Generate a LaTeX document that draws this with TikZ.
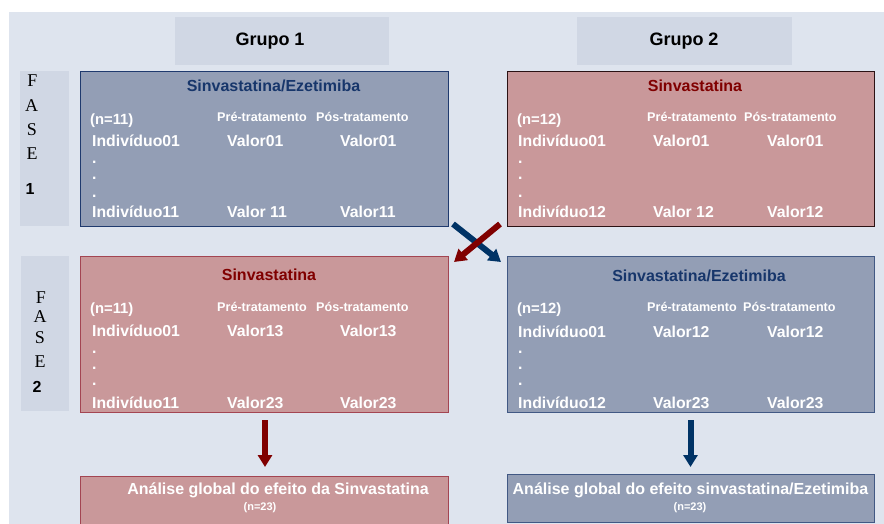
\documentclass[tikz,border=0pt]{standalone}
\usepackage{fontspec}
\setmainfont{Liberation Sans}
\newfontfamily\fasefont{Liberation Serif}
\usetikzlibrary{arrows.meta}
\definecolor{bgc}{HTML}{DEE4EE}
\definecolor{hdrc}{HTML}{D0D7E4}
\definecolor{boxblue}{HTML}{939EB5}
\definecolor{boxred}{HTML}{C9989A}
\definecolor{edgeblue}{HTML}{1F3A6E}
\definecolor{edgered}{HTML}{A34552}
\definecolor{edgedark}{HTML}{2B1214}
\definecolor{titleblue}{HTML}{17366B}
\definecolor{titlered}{HTML}{800000}
\definecolor{arrowblue}{HTML}{003366}
\definecolor{arrowred}{HTML}{800000}
\begin{document}
\begin{tikzpicture}[x=1pt,y=-1pt,
  rect/.style={inner sep=0pt, outer sep=0pt, anchor=north west},
  hdr/.style={rect, fill=hdrc, draw=none},
  bluebox/.style={rect, fill=boxblue, draw=edgeblue, line width=0.9pt},
  redbox/.style={rect, fill=boxred, draw=edgered, line width=0.9pt},
  t/.style={inner sep=0pt, anchor=base west, text=white, font=\bfseries\fontsize{15.8}{18}\selectfont},
  tn/.style={t, font=\bfseries\fontsize{14.8}{17}\selectfont},
  th/.style={t, font=\bfseries\fontsize{12.6}{15}\selectfont},
  ttl/.style={inner sep=0pt, anchor=base, font=\bfseries\fontsize{16}{19}\selectfont},
  tb/.style={ttl, text=white},
  tsm/.style={inner sep=0pt, anchor=base, text=white, font=\bfseries\fontsize{11}{13}\selectfont},
  grp/.style={inner sep=0pt, anchor=base, font=\bfseries\fontsize{18}{21}\selectfont},
  fase/.style={inner sep=0pt, anchor=base, font=\fasefont\fontsize{18}{21}\selectfont},
  fnum/.style={inner sep=0pt, anchor=base, font=\bfseries\fontsize{16}{19}\selectfont},
  downarrow/.style={line width=6pt, -{Triangle[width=14pt,length=12pt]}},
]
\useasboundingbox (0,0) rectangle (884,524);
\fill[bgc] (9,12) rectangle (884,524);

% headers
\node[hdr, minimum width=214pt, minimum height=48pt] (h1) at (175,17) {};
\node[hdr, minimum width=215pt, minimum height=48pt] (h2) at (577,17) {};
\node[grp] (g1) at (270,46) {Grupo 1};
\node[grp] (g2) at (684,46) {Grupo 2};

% fase columns
\node[hdr, minimum width=49pt, minimum height=155pt] (f1) at (20,71) {};
\node[hdr, minimum width=48pt, minimum height=155pt] (f2) at (21,256) {};
\node[fase] (f1a) at (32.5,87) {F};
\node[fase] (f1b) at (31.5,112) {A};
\node[fase] (f1c) at (32,136) {S};
\node[fase] (f1d) at (32,160) {E};
\node[fnum] (f1e) at (30,195) {1};
\node[fase] (f2a) at (41,303) {F};
\node[fase] (f2b) at (40,322) {A};
\node[fase] (f2c) at (40,343) {S};
\node[fase] (f2d) at (40,367) {E};
\node[fnum] (f2e) at (37,392) {2};

% boxes
\node[bluebox, minimum width=368pt, minimum height=155pt] (b1) at (80,71) {};
\node[redbox, draw=edgedark, minimum width=367pt, minimum height=155pt] (b2) at (507,71) {};
\node[redbox, minimum width=368pt, minimum height=156pt] (b3) at (80,256) {};
\node[bluebox, draw=edgeblue!85!white, minimum width=367pt, minimum height=156pt] (b4) at (507,256) {};
\node[redbox, minimum width=368pt, minimum height=56pt] (b5) at (80,476) {};
\node[bluebox, draw=edgeblue!85!white, minimum width=367pt, minimum height=48pt] (b6) at (507,474) {};

% box 1
\node[ttl, text=titleblue] (b1t) at (273.5,92) {Sinvastatina/Ezetimiba};
\node[tn] (b1n) at (90,125) {(n=11)};
\node[th] (b1pre) at (217,122) {Pré-tratamento};
\node[th] (b1pos) at (316,122) {Pós-tratamento};
\node[t] (b1r1) at (92,146.7) {Indivíduo01};
\node[t] (b1v1) at (227,146.7) {Valor01};
\node[t] (b1w1) at (340,146.7) {Valor01};
\node[t] (b1d1) at (92,164) {.};
\node[t] (b1d2) at (92,180) {.};
\node[t] (b1d3) at (92,197) {.};
\node[t] (b1r2) at (92,218) {Indivíduo11};
\node[t] (b1v2) at (227,218) {Valor 11};
\node[t] (b1w2) at (340,218) {Valor11};

% box 2
\node[ttl, text=titlered] (b2t) at (695,91.7) {Sinvastatina};
\node[tn] (b2n) at (517,125) {(n=12)};
\node[th] (b2pre) at (647,122) {Pré-tratamento};
\node[th] (b2pos) at (744,122) {Pós-tratamento};
\node[t] (b2r1) at (518,146.7) {Indivíduo01};
\node[t] (b2v1) at (653,146.7) {Valor01};
\node[t] (b2w1) at (767,146.7) {Valor01};
\node[t] (b2d1) at (518,164) {.};
\node[t] (b2d2) at (518,180) {.};
\node[t] (b2d3) at (518,197) {.};
\node[t] (b2r2) at (518,218) {Indivíduo12};
\node[t] (b2v2) at (653,218) {Valor 12};
\node[t] (b2w2) at (767,218) {Valor12};

% box 3
\node[ttl, text=titlered] (b3t) at (269,280) {Sinvastatina};
\node[tn] (b3n) at (90,313) {(n=11)};
\node[th] (b3pre) at (217,311) {Pré-tratamento};
\node[th] (b3pos) at (316,311) {Pós-tratamento};
\node[t] (b3r1) at (92,336.7) {Indivíduo01};
\node[t] (b3v1) at (227,336.7) {Valor13};
\node[t] (b3w1) at (340,336.7) {Valor13};
\node[t] (b3d1) at (92,353) {.};
\node[t] (b3d2) at (92,369) {.};
\node[t] (b3d3) at (92,385) {.};
\node[t] (b3r2) at (92,408) {Indivíduo11};
\node[t] (b3v2) at (227,408) {Valor23};
\node[t] (b3w2) at (340,408) {Valor23};

% box 4
\node[ttl, text=titleblue] (b4t) at (699,281) {Sinvastatina/Ezetimiba};
\node[tn] (b4n) at (517,313) {(n=12)};
\node[th] (b4pre) at (647,311) {Pré-tratamento};
\node[th] (b4pos) at (743,311) {Pós-tratamento};
\node[t] (b4r1) at (518,337) {Indivíduo01};
\node[t] (b4v1) at (653,337) {Valor12};
\node[t] (b4w1) at (767,337) {Valor12};
\node[t] (b4d1) at (518,353) {.};
\node[t] (b4d2) at (518,369) {.};
\node[t] (b4d3) at (518,385) {.};
\node[t] (b4r2) at (518,408) {Indivíduo12};
\node[t] (b4v2) at (653,408) {Valor23};
\node[t] (b4w2) at (767,408) {Valor23};

% bottom boxes
\node[tb] (b5t) at (278,494) {Análise global do efeito da Sinvastatina};
\node[tsm] (b5n) at (260,510) {(n=23)};
\node[tb] (b6t) at (690.5,494) {Análise global do efeito sinvastatina/Ezetimiba};
\node[tsm] (b6n) at (690,510) {(n=23)};

% arrows
\draw[arrowblue, downarrow] ([shift={(5,-2)}]b1.south east) -- ([shift={(-6,6)}]b4.north west);
\draw[arrowred, downarrow] ([shift={(-7,-2)}]b2.south west) -- ([shift={(6,6)}]b3.north east);
\draw[arrowred, downarrow] ([shift={(1,8)}]b3.south) -- ([shift={(1,-9)}]b5.north);
\draw[arrowblue, downarrow] ([shift={(0,8)}]b4.south) -- ([shift={(0,-7)}]b6.north);
\end{tikzpicture}
\end{document}
